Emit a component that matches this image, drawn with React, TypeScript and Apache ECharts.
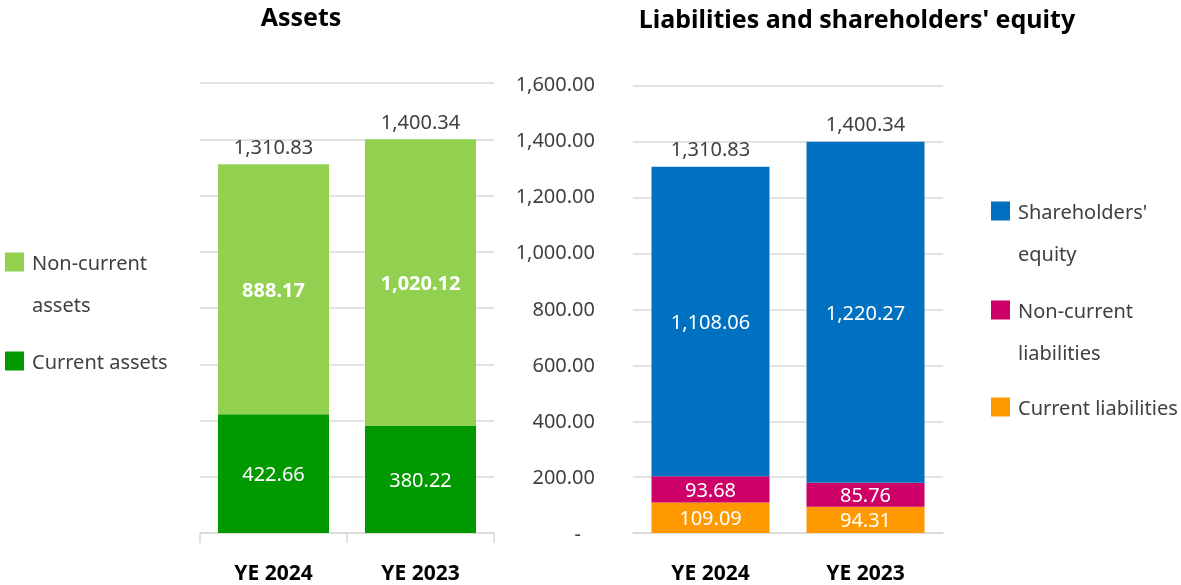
import React, { useEffect, useRef } from "react";
import * as echarts from "echarts";

const categories = ["YE 2024", "YE 2023"];
const currentAssets = [422.66, 380.22];
const nonCurrentAssets = [888.17, 1020.12];
const currentLiabilities = [109.09, 94.31];
const nonCurrentLiabilities = [93.68, 85.76];
const shareholdersEquity = [1108.06, 1220.27];
const axisMin = 0;
const axisMax = 1600;
const axisStep = 200;

const totalAssets = currentAssets.map((v, i) => +(v + nonCurrentAssets[i]).toFixed(2));
const totalLiabEq = currentLiabilities.map(
  (v, i) => +(v + nonCurrentLiabilities[i] + shareholdersEquity[i]).toFixed(2)
);

const FONT = "'Noto Sans', sans-serif";
const DARK = "#404040";
const GRID = "#d9d9d9";
const fmt = (v: number) =>
  v.toLocaleString("en-US", { minimumFractionDigits: 2, maximumFractionDigits: 2 });

function legendItem(name: string, left: number, top: number, text: string) {
  return {
    data: [name],
    left,
    top,
    orient: "vertical",
    padding: 0,
    itemGap: 0,
    itemWidth: 19,
    itemHeight: 19,
    icon: "rect",
    selectedMode: false,
    formatter: () => text,
    textStyle: {
      fontFamily: FONT,
      fontSize: 20,
      color: DARK,
      lineHeight: 42,
      padding: [0, 0, 0, 3],
    },
  };
}

export default function App() {
  const ref = useRef<HTMLDivElement>(null);
  useEffect(() => {
    if (!ref.current) return;
    const chart = echarts.init(ref.current, null, { renderer: "svg" });
    const insideLabel = (bold: boolean) => ({
      show: true,
      position: "inside",
      color: "#fff",
      fontFamily: FONT,
      fontSize: 20,
      fontWeight: bold ? "bold" : "normal",
      formatter: (p: any) => fmt(p.value),
    });
    const totalLabel = {
      show: true,
      position: "top",
      distance: 8,
      color: DARK,
      fontFamily: FONT,
      fontSize: 20,
      formatter: (p: any) => fmt(p.value),
    };
    const xAxisBase = (gridIndex: number, ticks: boolean) => ({
      type: "category",
      gridIndex,
      data: categories,
      axisLine: { show: true, lineStyle: { color: GRID, width: 1.5 } },
      axisTick: { show: ticks, length: 10, lineStyle: { color: GRID, width: 1.5 } },
      axisLabel: {
        fontFamily: FONT,
        fontSize: 21,
        fontWeight: "bold",
        color: "#000",
        margin: 28,
      },
    });
    const titleStyle = { fontFamily: FONT, fontSize: 25, fontWeight: "bold", color: "#000" };
    chart.setOption({
      animation: false,
      title: [
        { text: "Assets", left: 301, top: 3, textAlign: "center", padding: 0, textStyle: titleStyle },
        {
          text: "Liabilities and shareholders' equity",
          left: 857,
          top: 5,
          textAlign: "center",
          padding: 0,
          textStyle: titleStyle,
        },
      ],
      legend: [
        legendItem("Non-current assets", 5, 199, "\nNon-current\nassets"),
        legendItem("Current assets", 5, 340, "Current assets"),
        legendItem("Shareholders' equity", 991, 148, "\nShareholders'\nequity"),
        legendItem("Non-current liabilities", 991, 247, "\nNon-current\nliabilities"),
        legendItem("Current liabilities", 991, 386, "Current liabilities"),
      ],
      grid: [
        { left: 200, top: 83, width: 294, height: 450, containLabel: false },
        { left: 633, top: 86, width: 310, height: 447, containLabel: false },
      ],
      xAxis: [xAxisBase(0, true), xAxisBase(1, false)],
      yAxis: [
        {
          type: "value",
          gridIndex: 0,
          min: axisMin,
          max: axisMax,
          interval: axisStep,
          position: "right",
          axisLine: { show: false },
          axisTick: { show: false },
          splitLine: { lineStyle: { color: GRID, width: 1.5 } },
          axisLabel: {
            align: "right",
            margin: 101,
            fontFamily: FONT,
            fontSize: 20,
            color: DARK,
            formatter: (v: number) => (v === 0 ? "{d|-}" : fmt(v)),
            rich: { d: { fontFamily: FONT, fontSize: 20, color: DARK, padding: [0, 14, 0, 0] } },
          },
        },
        {
          type: "value",
          gridIndex: 1,
          min: axisMin,
          max: axisMax,
          interval: axisStep,
          axisLine: { show: false },
          axisTick: { show: false },
          axisLabel: { show: false },
          splitLine: { lineStyle: { color: GRID, width: 1.5 } },
        },
      ],
      series: [
        {
          name: "Current assets",
          type: "bar",
          stack: "assets",
          xAxisIndex: 0,
          yAxisIndex: 0,
          barWidth: 111,
          data: currentAssets,
          itemStyle: { color: "#009900" },
          label: insideLabel(false),
        },
        {
          name: "Non-current assets",
          type: "bar",
          stack: "assets",
          xAxisIndex: 0,
          yAxisIndex: 0,
          barWidth: 111,
          data: nonCurrentAssets,
          itemStyle: { color: "#92d050" },
          label: insideLabel(true),
        },
        {
          name: "Total assets",
          type: "bar",
          xAxisIndex: 0,
          yAxisIndex: 0,
          barWidth: 111,
          barGap: "-100%",
          data: totalAssets,
          itemStyle: { color: "rgba(0,0,0,0)" },
          label: totalLabel,
          silent: true,
        },
        {
          name: "Current liabilities",
          type: "bar",
          stack: "liab",
          xAxisIndex: 1,
          yAxisIndex: 1,
          barWidth: 118,
          data: currentLiabilities,
          itemStyle: { color: "#ff9900" },
          label: insideLabel(false),
        },
        {
          name: "Non-current liabilities",
          type: "bar",
          stack: "liab",
          xAxisIndex: 1,
          yAxisIndex: 1,
          barWidth: 118,
          data: nonCurrentLiabilities,
          itemStyle: { color: "#cc0066" },
          label: insideLabel(false),
        },
        {
          name: "Shareholders' equity",
          type: "bar",
          stack: "liab",
          xAxisIndex: 1,
          yAxisIndex: 1,
          barWidth: 118,
          data: shareholdersEquity,
          itemStyle: { color: "#0070c0" },
          label: insideLabel(false),
        },
        {
          name: "Total liabilities and equity",
          type: "bar",
          xAxisIndex: 1,
          yAxisIndex: 1,
          barWidth: 118,
          barGap: "-100%",
          data: totalLiabEq,
          itemStyle: { color: "rgba(0,0,0,0)" },
          label: totalLabel,
          silent: true,
        },
      ],
    });
    return () => chart.dispose();
  }, []);
  return (
    <div
      ref={ref}
      style={{ position: "fixed", left: 0, top: 0, width: 1181, height: 585 }}
    />
  );
}
